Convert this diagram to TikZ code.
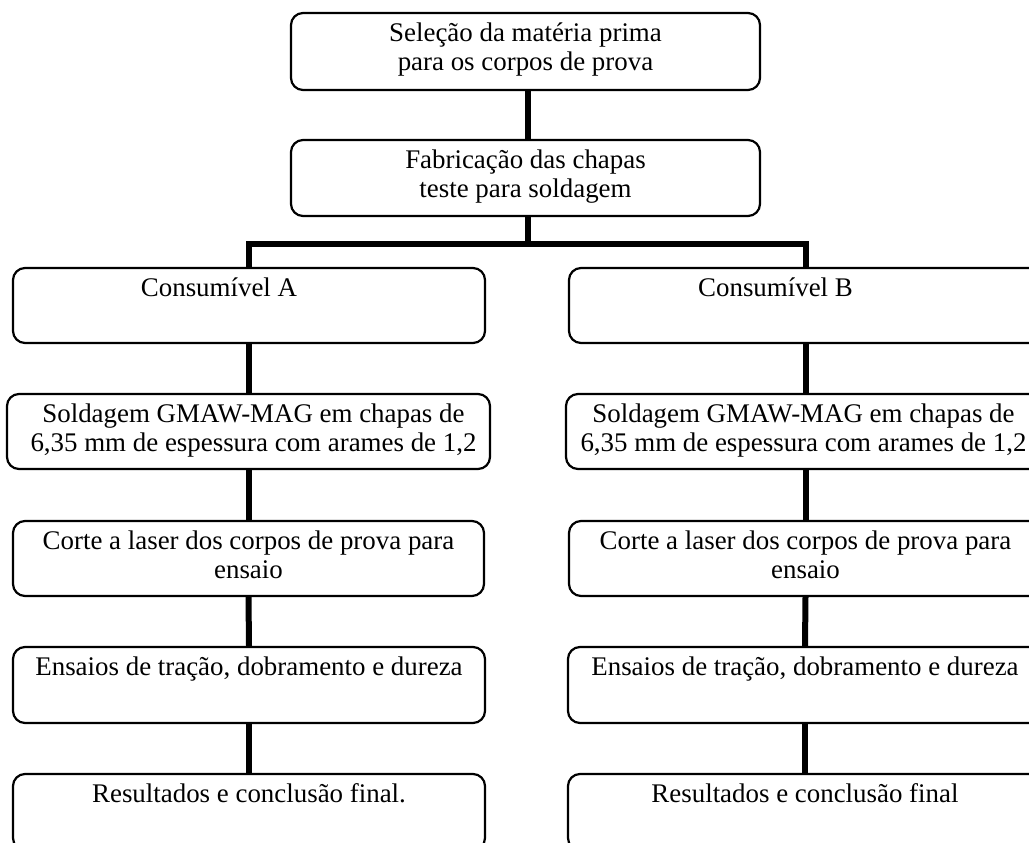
\documentclass[tikz,border=0pt]{standalone}
\usepackage{fontspec}
\setmainfont{Liberation Serif}
\tikzset{
  boxst/.style={draw=black, line width=2.2pt, rounded corners=12pt, inner sep=0pt},
  txt/.style={font=\fontsize{26.9}{29.3}\selectfont, align=center, inner sep=0pt, anchor=north},
  conn/.style={draw=black, line width=6pt, line join=miter}
}
\begin{document}
\begin{tikzpicture}[x=1pt,y=-1pt]
\useasboundingbox (0,0) rectangle (1029,843);
\clip (0,0) rectangle (1029,843);
% boxes as nodes
\node[boxst, minimum width=469pt, minimum height=77pt] (t1) at (525.5,51.5) {};
\node[boxst, minimum width=469pt, minimum height=76pt] (t2) at (525.5,178) {};
\node[boxst, minimum width=472pt, minimum height=75pt] (a1) at (249,305.5) {};
\node[boxst, minimum width=483pt, minimum height=75pt] (a2) at (248.5,431.5) {};
\node[boxst, minimum width=471pt, minimum height=75pt] (a3) at (248.5,558.5) {};
\node[boxst, minimum width=472pt, minimum height=76pt] (a4) at (249,685) {};
\node[boxst, minimum width=472pt, minimum height=76pt] (a5) at (249,812) {};
\node[boxst, minimum width=473pt, minimum height=75pt] (b1) at (805.5,305.5) {};
\node[boxst, minimum width=481pt, minimum height=75pt] (b2) at (806.5,431.5) {};
\node[boxst, minimum width=473pt, minimum height=75pt] (b3) at (805.5,558.5) {};
\node[boxst, minimum width=474pt, minimum height=76pt] (b4) at (805,685) {};
\node[boxst, minimum width=474pt, minimum height=76pt] (b5) at (805,812) {};
% texts (first baseline ~29.5 below the box top; strut height 20.5)
\node[txt] (t1t) at ([yshift=-9pt]t1.north) {\strut Seleção da matéria prima\\\strut para os corpos de prova};
\node[txt] (t2t) at ([yshift=-9pt]t2.north) {\strut Fabricação das chapas\\\strut teste para soldagem};
\node[txt] (a1t) at ([xshift=-30pt,yshift=-9pt]a1.north) {\strut Consumível A};
\node[txt] (a2t) at ([xshift=5pt,yshift=-9pt]a2.north) {\strut Soldagem GMAW-MAG em chapas de\\\strut 6,35 mm de espessura com arames de 1,2};
\node[txt] (a3t) at ([yshift=-9pt]a3.north) {\strut Corte a laser dos corpos de prova para\\\strut ensaio};
\node[txt] (a4t) at ([yshift=-9pt]a4.north) {\strut Ensaios de tração, dobramento e dureza};
\node[txt] (a5t) at ([yshift=-9pt]a5.north) {\strut Resultados e conclusão final.};
\node[txt] (b1t) at ([xshift=-30pt,yshift=-9pt]b1.north) {\strut Consumível B};
\node[txt] (b2t) at ([xshift=-3pt,yshift=-9pt]b2.north) {\strut Soldagem GMAW-MAG em chapas de\\\strut 6,35 mm de espessura com arames de 1,2};
\node[txt] (b3t) at ([yshift=-9pt]b3.north) {\strut Corte a laser dos corpos de prova para\\\strut ensaio};
\node[txt] (b4t) at ([yshift=-9pt]b4.north) {\strut Ensaios de tração, dobramento e dureza};
\node[txt] (b5t) at ([yshift=-9pt]b5.north) {\strut Resultados e conclusão final};
% connectors
\coordinate (bar) at (528,244);
\draw[conn] ([xshift=2.5pt]t1.south) -- ([xshift=2.5pt]t2.north);
\draw[conn] ([xshift=2.5pt]t2.south) -- (bar);
\draw[conn] (a1.north) -- (a1.north |- bar) -- (b1.north |- bar) -- (b1.north);
\draw[conn] (a1.south) -- (a1.south |- a2.north);
\draw[conn] (a1.south |- a2.south) -- (a1.south |- a3.north);
\draw[conn] (a3.south) -- (a4.north);
\draw[conn] (a4.south) -- (a5.north);
\draw[conn] (b1.south) -- (b1.south |- b2.north);
\draw[conn] (b1.south |- b2.south) -- (b1.south |- b3.north);
\draw[conn] (b3.south) -- (b4.north);
\draw[conn] (b4.south) -- (b5.north);
\end{tikzpicture}
\end{document}
